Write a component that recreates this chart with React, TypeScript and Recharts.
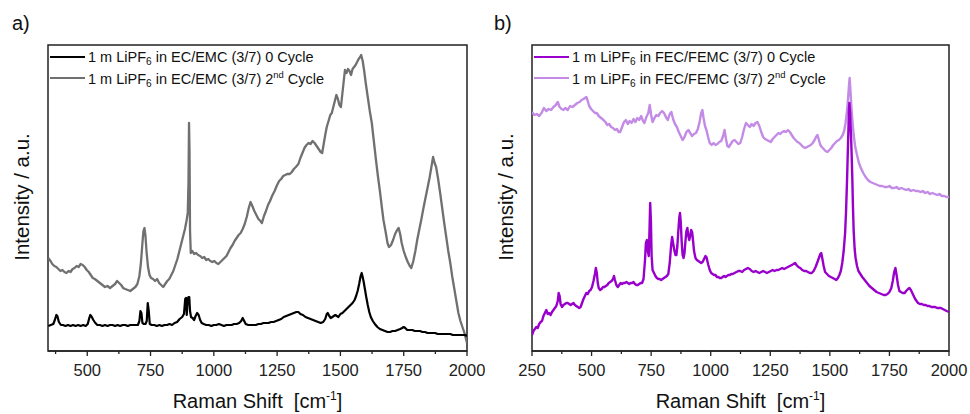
import React from 'react';
import { LineChart, Line, XAxis, YAxis, ReferenceArea, Legend } from 'recharts';

// ---------- DATA (Raman shift [cm-1], intensity a.u.) ----------
const ecEmc0: [number, number][] = [
  [346, 25], [356, 26], [366, 27], [372, 31], [378, 36], [382, 35], [388, 29], [396, 26], [404, 26], [414, 25],
  [424, 26], [434, 25], [444, 26], [454, 25], [464, 26], [474, 25], [484, 26], [494, 25], [502, 27], [508, 33],
  [512, 36], [518, 34], [524, 31], [532, 28], [540, 26], [550, 26], [560, 25], [570, 26], [580, 25], [590, 26],
  [600, 26], [610, 25], [620, 26], [630, 25], [640, 26], [650, 26], [660, 25], [670, 26], [680, 26], [690, 26],
  [700, 26], [706, 30], [710, 40], [714, 38], [718, 28], [724, 27], [730, 27], [735, 30], [739, 48], [743, 40],
  [747, 27], [755, 26], [765, 26], [775, 25], [785, 26], [795, 25], [805, 26], [815, 26], [825, 27], [835, 26],
  [845, 28], [855, 29], [865, 32], [875, 34], [882, 37], [887, 52], [890, 53], [893, 36], [897, 52], [900, 54],
  [903, 54], [906, 40], [910, 34], [916, 33], [922, 31], [928, 35], [934, 38], [940, 36], [946, 31], [952, 28],
  [960, 27], [970, 26], [980, 26], [990, 25], [1000, 26], [1010, 26], [1020, 27], [1030, 26], [1040, 25], [1050, 26],
  [1060, 26], [1070, 26], [1080, 27], [1090, 27], [1100, 28], [1108, 30], [1114, 33], [1120, 30], [1126, 27], [1136, 26],
  [1146, 26], [1156, 26], [1166, 26], [1176, 27], [1186, 27], [1196, 28], [1206, 28], [1216, 28], [1226, 29], [1236, 29],
  [1246, 30], [1256, 31], [1266, 32], [1276, 34], [1286, 35], [1296, 36], [1306, 37], [1316, 38], [1326, 39], [1334, 39],
  [1342, 37], [1352, 36], [1362, 34], [1372, 33], [1382, 32], [1392, 31], [1402, 30], [1412, 29], [1422, 28], [1432, 29],
  [1440, 32], [1446, 37], [1450, 38], [1456, 35], [1462, 33], [1468, 34], [1474, 35], [1480, 36], [1486, 35], [1492, 34],
  [1500, 37], [1508, 38], [1516, 40], [1524, 42], [1532, 44], [1540, 46], [1548, 48], [1556, 51], [1562, 55], [1568, 60],
  [1574, 67], [1580, 75], [1584, 78], [1588, 74], [1592, 69], [1596, 63], [1602, 54], [1608, 46], [1614, 39], [1620, 34],
  [1628, 30], [1636, 27], [1646, 24], [1656, 22], [1666, 21], [1676, 20], [1686, 19], [1696, 19], [1706, 20], [1716, 20],
  [1726, 21], [1736, 22], [1744, 23], [1750, 24], [1756, 23], [1764, 21], [1774, 21], [1784, 21], [1794, 20], [1804, 20],
  [1814, 20], [1824, 19], [1834, 19], [1844, 18], [1854, 18], [1864, 18], [1874, 18], [1884, 17], [1894, 17], [1904, 17],
  [1914, 17], [1924, 17], [1934, 17], [1944, 16], [1954, 16], [1964, 16], [1974, 16], [1984, 16], [1992, 16], [2000, 15],
];

const ecEmc2: [number, number][] = [
  [346, 93], [355, 90], [362, 87], [370, 85], [378, 84], [386, 82], [394, 80], [402, 81], [410, 79], [418, 78],
  [426, 80], [434, 79], [442, 82], [450, 83], [458, 85], [466, 84], [474, 87], [482, 86], [490, 84], [498, 81],
  [506, 79], [514, 76], [522, 73], [530, 72], [540, 70], [550, 68], [560, 66], [570, 64], [580, 65], [590, 63],
  [600, 65], [610, 67], [618, 70], [626, 68], [634, 66], [642, 63], [650, 62], [660, 61], [670, 60], [680, 62],
  [690, 64], [698, 67], [706, 75], [712, 88], [718, 108], [722, 120], [726, 123], [730, 115], [734, 100], [740, 84],
  [746, 76], [752, 73], [760, 72], [768, 70], [776, 72], [784, 68], [792, 66], [800, 64], [808, 67], [816, 70],
  [824, 72], [832, 76], [840, 80], [848, 86], [856, 92], [864, 100], [872, 108], [880, 116], [886, 122], [892, 130],
  [897, 138], [900, 170], [902, 228], [904, 200], [906, 120], [909, 98], [915, 100], [922, 97], [930, 98], [938, 96],
  [946, 95], [954, 93], [962, 94], [970, 91], [978, 92], [986, 90], [994, 89], [1002, 90], [1010, 88], [1018, 87],
  [1026, 89], [1034, 91], [1042, 93], [1050, 95], [1058, 99], [1066, 103], [1074, 106], [1082, 110], [1090, 113], [1098, 116],
  [1106, 118], [1114, 122], [1122, 127], [1130, 134], [1138, 143], [1145, 149], [1152, 145], [1160, 140], [1168, 136], [1176, 132],
  [1184, 130], [1190, 128], [1198, 135], [1206, 140], [1214, 146], [1222, 150], [1230, 155], [1240, 160], [1250, 166], [1258, 170],
  [1266, 172], [1274, 175], [1282, 176], [1290, 177], [1300, 177], [1308, 179], [1316, 182], [1324, 184], [1334, 187], [1342, 193],
  [1350, 198], [1358, 203], [1366, 206], [1374, 208], [1382, 207], [1390, 210], [1398, 208], [1406, 205], [1414, 202], [1422, 199],
  [1428, 198], [1434, 207], [1440, 216], [1446, 224], [1452, 229], [1460, 236], [1466, 238], [1472, 244], [1478, 250], [1484, 256],
  [1490, 252], [1496, 246], [1502, 244], [1508, 258], [1514, 272], [1518, 281], [1524, 278], [1530, 282], [1536, 280], [1542, 276],
  [1548, 282], [1554, 284], [1560, 286], [1566, 289], [1572, 292], [1578, 294], [1582, 296], [1588, 290], [1594, 280], [1600, 268],
  [1608, 254], [1616, 240], [1624, 228], [1632, 210], [1640, 192], [1648, 175], [1656, 160], [1664, 143], [1670, 131], [1678, 120],
  [1686, 108], [1692, 104], [1700, 106], [1708, 111], [1716, 117], [1724, 121], [1730, 123], [1736, 117], [1742, 108], [1750, 100],
  [1758, 94], [1766, 89], [1774, 85], [1780, 83], [1788, 90], [1796, 100], [1804, 112], [1812, 122], [1820, 132], [1828, 143],
  [1836, 153], [1844, 163], [1852, 173], [1860, 185], [1866, 194], [1872, 188], [1878, 184], [1886, 172], [1894, 158], [1902, 143],
  [1910, 128], [1918, 114], [1926, 100], [1934, 88], [1942, 74], [1950, 62], [1958, 50], [1966, 38], [1974, 30], [1982, 24],
  [1990, 18], [2000, 8],
];

const fecFemc0: [number, number][] = [
  [250, 16], [256, 20], [262, 22], [268, 24], [274, 23], [280, 27], [286, 29], [292, 30], [298, 35], [304, 38],
  [310, 41], [316, 37], [322, 38], [328, 36], [334, 39], [340, 41], [346, 43], [352, 45], [358, 50], [362, 58],
  [366, 55], [370, 47], [376, 44], [382, 46], [388, 47], [394, 48], [400, 48], [406, 47], [412, 46], [418, 47],
  [424, 48], [430, 46], [436, 45], [442, 44], [448, 43], [454, 44], [460, 48], [466, 52], [472, 55], [478, 58],
  [484, 57], [490, 60], [496, 61], [502, 64], [508, 70], [514, 77], [518, 83], [522, 78], [526, 68], [530, 63],
  [536, 61], [542, 62], [548, 64], [554, 64], [560, 65], [566, 66], [572, 68], [578, 69], [584, 70], [590, 72],
  [594, 75], [598, 71], [604, 66], [610, 64], [616, 66], [622, 68], [628, 67], [634, 68], [640, 68], [646, 69],
  [652, 68], [658, 67], [664, 68], [670, 68], [676, 69], [682, 67], [688, 66], [694, 66], [700, 67], [706, 68],
  [712, 68], [718, 72], [724, 90], [728, 108], [732, 111], [736, 100], [740, 95], [743, 120], [746, 148], [749, 130],
  [752, 95], [756, 81], [762, 78], [768, 75], [774, 73], [780, 72], [786, 72], [792, 71], [798, 72], [804, 73],
  [810, 74], [816, 75], [822, 77], [828, 88], [834, 106], [838, 114], [842, 108], [848, 100], [852, 96], [856, 96],
  [860, 105], [864, 120], [868, 133], [871, 138], [874, 130], [878, 110], [882, 96], [886, 93], [890, 98], [894, 110],
  [898, 120], [902, 123], [906, 115], [910, 111], [914, 115], [918, 121], [922, 119], [926, 110], [930, 100], [936, 93],
  [942, 91], [948, 90], [954, 89], [960, 88], [966, 89], [972, 92], [978, 95], [982, 94], [986, 90], [990, 86],
  [996, 81], [1002, 78], [1008, 77], [1014, 76], [1020, 76], [1026, 74], [1032, 74], [1038, 73], [1044, 73], [1050, 74],
  [1056, 75], [1062, 74], [1068, 75], [1074, 76], [1080, 76], [1086, 77], [1092, 77], [1100, 78], [1108, 79], [1116, 80],
  [1124, 80], [1132, 79], [1140, 81], [1148, 82], [1156, 83], [1164, 82], [1172, 80], [1180, 79], [1188, 80], [1196, 79],
  [1204, 78], [1212, 79], [1220, 80], [1228, 79], [1236, 78], [1244, 79], [1252, 80], [1260, 81], [1268, 80], [1276, 81],
  [1284, 81], [1292, 82], [1300, 83], [1308, 82], [1316, 83], [1324, 84], [1332, 85], [1340, 86], [1348, 87], [1354, 88],
  [1360, 86], [1368, 84], [1376, 83], [1384, 81], [1392, 80], [1400, 80], [1408, 79], [1416, 78], [1424, 78], [1432, 80],
  [1440, 84], [1448, 89], [1454, 93], [1460, 97], [1464, 98], [1468, 93], [1474, 85], [1480, 79], [1488, 77], [1496, 75],
  [1504, 74], [1512, 73], [1520, 72], [1527, 71], [1534, 73], [1540, 76], [1546, 80], [1552, 88], [1558, 100], [1564, 118],
  [1568, 140], [1572, 170], [1576, 205], [1580, 240], [1582, 248], [1585, 238], [1588, 220], [1591, 200], [1594, 175], [1597, 144],
  [1600, 120], [1604, 102], [1608, 93], [1614, 85], [1620, 80], [1628, 77], [1636, 74], [1646, 71], [1656, 68], [1666, 65],
  [1676, 63], [1686, 61], [1696, 59], [1706, 58], [1716, 57], [1726, 56], [1734, 56], [1742, 57], [1750, 59], [1758, 63],
  [1764, 70], [1770, 79], [1775, 83], [1780, 76], [1786, 66], [1792, 60], [1798, 59], [1806, 58], [1814, 58], [1820, 60],
  [1828, 62], [1834, 63], [1840, 61], [1846, 58], [1852, 55], [1858, 52], [1864, 50], [1870, 48], [1878, 47], [1886, 47],
  [1894, 46], [1902, 46], [1910, 45], [1918, 45], [1926, 44], [1934, 44], [1942, 44], [1950, 43], [1958, 43], [1966, 43],
  [1974, 42], [1982, 41], [1990, 40], [2000, 39],
];

const fecFemc2: [number, number][] = [
  [250, 239], [260, 236], [270, 237], [280, 235], [290, 238], [300, 243], [310, 240], [320, 242], [330, 241], [340, 244],
  [350, 246], [358, 249], [366, 244], [374, 242], [382, 241], [390, 243], [400, 241], [410, 245], [420, 244], [430, 246],
  [440, 248], [450, 249], [458, 251], [466, 252], [472, 253], [478, 254], [484, 250], [490, 245], [498, 242], [506, 240],
  [514, 238], [522, 238], [530, 235], [540, 233], [550, 231], [558, 229], [566, 226], [574, 227], [582, 224], [590, 223],
  [598, 221], [606, 222], [614, 219], [620, 219], [628, 224], [636, 229], [644, 231], [652, 227], [660, 230], [668, 228],
  [676, 232], [684, 229], [692, 233], [700, 231], [708, 235], [716, 230], [722, 228], [730, 234], [738, 238], [744, 246],
  [750, 236], [756, 229], [764, 233], [772, 236], [780, 235], [788, 238], [796, 240], [804, 238], [812, 234], [820, 231],
  [828, 237], [835, 239], [842, 232], [850, 227], [858, 224], [866, 219], [874, 215], [882, 211], [890, 214], [898, 219],
  [906, 221], [914, 218], [922, 215], [930, 217], [938, 218], [946, 222], [954, 230], [960, 238], [965, 241], [970, 233],
  [976, 225], [982, 221], [990, 213], [996, 208], [1004, 206], [1012, 208], [1020, 206], [1028, 207], [1036, 209], [1044, 210],
  [1052, 215], [1058, 221], [1064, 212], [1070, 205], [1076, 204], [1084, 207], [1092, 210], [1100, 211], [1108, 209], [1116, 207],
  [1124, 208], [1132, 214], [1140, 222], [1148, 228], [1156, 226], [1164, 224], [1172, 227], [1180, 225], [1188, 228], [1196, 229],
  [1204, 225], [1212, 219], [1220, 214], [1228, 212], [1236, 211], [1244, 210], [1252, 209], [1260, 212], [1268, 214], [1276, 216],
  [1284, 218], [1292, 217], [1300, 219], [1308, 220], [1316, 219], [1324, 221], [1332, 219], [1340, 216], [1348, 213], [1356, 211],
  [1364, 209], [1372, 208], [1380, 206], [1388, 204], [1396, 203], [1404, 204], [1412, 205], [1420, 206], [1428, 208], [1436, 211],
  [1442, 214], [1448, 216], [1454, 211], [1460, 206], [1466, 204], [1474, 202], [1482, 200], [1490, 199], [1498, 201], [1506, 203],
  [1514, 206], [1522, 208], [1530, 210], [1538, 211], [1546, 213], [1554, 216], [1560, 220], [1566, 228], [1572, 240], [1576, 251],
  [1580, 265], [1583, 273], [1586, 262], [1590, 245], [1594, 232], [1600, 216], [1606, 205], [1614, 196], [1622, 188], [1630, 183],
  [1640, 178], [1650, 174], [1660, 171], [1670, 169], [1680, 168], [1690, 167], [1700, 166], [1710, 165], [1720, 165], [1730, 164],
  [1740, 164], [1750, 165], [1760, 163], [1770, 163], [1780, 164], [1790, 162], [1800, 163], [1810, 162], [1820, 161], [1830, 162],
  [1840, 160], [1850, 161], [1860, 160], [1870, 160], [1880, 159], [1890, 160], [1900, 158], [1910, 159], [1920, 157], [1930, 158],
  [1940, 157], [1950, 156], [1960, 157], [1970, 155], [1980, 155], [1990, 154], [2000, 154],
];

const aMajorTicks = [500, 750, 1000, 1250, 1500, 1750, 2000];
const aMinorTicks = [375, 625, 875, 1125, 1375, 1625, 1875];
const bMajorTicks = [250, 500, 750, 1000, 1250, 1500, 1750, 2000];
const bMinorTicks = [375, 625, 875, 1125, 1375, 1625, 1875];

const aDomain: [number, number] = [345, 2000];
const bDomain: [number, number] = [250, 2000];
const yDomain: [number, number] = [0, 306];

// ---------- helpers ----------
const FONT = 'Arial, "Liberation Sans", Helvetica, sans-serif';
const toRows = (pts: [number, number][]) => pts.map(([x, y]) => ({ x, y }));

const makeTick = (majors: number[]) => (props: any) => {
  const { x, y, payload } = props;
  const isMajor = majors.includes(payload.value);
  return (
    <g>
      <line x1={x} x2={x} y1={y} y2={y + (isMajor ? 5 : 3)} stroke="#222" strokeWidth={1.3} />
      {isMajor && (
        <text x={x} y={y + 25} textAnchor="middle" fontSize={16.5} fill="#222" fontFamily={FONT}>
          {payload.value}
        </text>
      )}
    </g>
  );
};

type LegendRow = { color: string; solvent: string; cycle: React.ReactNode };

const LegendBox = ({ rows }: { rows: LegendRow[] }) => (
  <div style={{ fontFamily: FONT, fontSize: 14.5, color: '#111' }}>
    {rows.map((r, i) => (
      <div key={i} style={{ display: 'flex', alignItems: 'center', height: 21.5 }}>
        <div style={{ width: 35, height: 2, background: r.color, marginRight: 3, marginTop: -2 }} />
        <span style={{ lineHeight: '21.5px', whiteSpace: 'nowrap' }}>
          1 m LiPF<sub style={{ fontSize: '70%', verticalAlign: '-0.3em', lineHeight: 0 }}>6</sub> in {r.solvent} (3/7) {r.cycle}
        </span>
      </div>
    ))}
  </div>
);

const second = (
  <>
    2<sup style={{ fontSize: '65%', verticalAlign: '0.6em', lineHeight: 0 }}>nd</sup> Cycle
  </>
);

type PanelProps = {
  left: number;
  marginLeft: number;
  marginRight: number;
  domain: [number, number];
  majors: number[];
  minors: number[];
  series: { data: [number, number][]; color: string; name: string; width: number }[];
  legend: LegendRow[];
};

const Panel = ({ left, marginLeft, marginRight, domain, majors, minors, series, legend }: PanelProps) => {
  const ticks = [...minors, ...majors].filter((t) => t >= domain[0] && t <= domain[1]).sort((a, b) => a - b);
  return (
    <div style={{ position: 'absolute', left, top: 0 }}>
      <LineChart width={485} height={414} margin={{ top: 45, right: marginRight, bottom: 0, left: marginLeft }}>
        <XAxis
          type="number"
          dataKey="x"
          domain={domain}
          allowDataOverflow
          ticks={ticks}
          interval={0}
          tickSize={0}
          tickMargin={0}
          tickLine={false}
          tick={makeTick(majors)}
          height={63}
          axisLine={{ stroke: '#222', strokeWidth: 1.5 }}
        />
        <YAxis type="number" domain={yDomain} allowDataOverflow hide width={0} />
        <ReferenceArea
          x1={domain[0]}
          x2={domain[1]}
          y1={yDomain[0]}
          y2={yDomain[1]}
          fill="none"
          stroke="#222"
          strokeWidth={1.5}
          ifOverflow="visible"
        />
        {series.map((s) => (
          <Line
            key={s.name}
            data={toRows(s.data)}
            dataKey="y"
            name={s.name}
            type="linear"
            stroke={s.color}
            strokeWidth={s.width}
            strokeLinejoin="round"
            dot={false}
            activeDot={false}
            isAnimationActive={false}
          />
        ))}
        <Legend
          layout="horizontal"
          verticalAlign="middle"
          align="center"
          content={() => <LegendBox rows={legend} />}
          wrapperStyle={{ left: marginLeft + 2, top: 47, width: 'auto', height: 'auto' }}
        />
      </LineChart>
    </div>
  );
};

const YTitle = ({ x, y }: { x: number; y: number }) => (
  <text
    x={x}
    y={y}
    transform={`rotate(-90 ${x} ${y})`}
    textAnchor="middle"
    fontSize={20.5}
    fill="#111"
    fontFamily={FONT}
  >
    Intensity / a.u.
  </text>
);

const XTitle = ({ x, y }: { x: number; y: number }) => (
  <text x={x} y={y} textAnchor="middle" fontSize={20} fill="#111" fontFamily={FONT}>
    Raman Shift{'\u00A0\u00A0'}[cm
    <tspan fontSize={12} dy={-8}>-1</tspan>
    <tspan dy={8}>]</tspan>
  </text>
);

export default function App() {
  return (
    <div
      style={{
        position: 'absolute',
        left: 0,
        top: 0,
        width: 970,
        height: 414,
        background: '#fff',
        overflow: 'hidden',
        fontFamily: FONT,
      }}
    >
      <Panel
        left={0}
        marginLeft={48}
        marginRight={18}
        domain={aDomain}
        majors={aMajorTicks}
        minors={aMinorTicks}
        series={[
          { data: ecEmc2, color: '#707070', name: 'EC/EMC 2nd Cycle', width: 2.3 },
          { data: ecEmc0, color: '#000000', name: 'EC/EMC 0 Cycle', width: 2.2 },
        ]}
        legend={[
          { color: '#000000', solvent: 'EC/EMC', cycle: '0 Cycle' },
          { color: '#707070', solvent: 'EC/EMC', cycle: second },
        ]}
      />
      <Panel
        left={485}
        marginLeft={47}
        marginRight={21}
        domain={bDomain}
        majors={bMajorTicks}
        minors={bMinorTicks}
        series={[
          { data: fecFemc2, color: '#c38be6', name: 'FEC/FEMC 2nd Cycle', width: 2.4 },
          { data: fecFemc0, color: '#9900cc', name: 'FEC/FEMC 0 Cycle', width: 2.4 },
        ]}
        legend={[
          { color: '#9900cc', solvent: 'FEC/FEMC', cycle: '0 Cycle' },
          { color: '#c38be6', solvent: 'FEC/FEMC', cycle: second },
        ]}
      />
      <svg
        width={970}
        height={414}
        style={{ position: 'absolute', left: 0, top: 0, pointerEvents: 'none' }}
      >
        <text x={12} y={29.5} fontSize={20} fill="#111" fontFamily={FONT}>a)</text>
        <text x={494} y={29.5} fontSize={20} fill="#111" fontFamily={FONT}>b)</text>
        <YTitle x={29} y={197} />
        <YTitle x={513} y={197} />
        <XTitle x={257.5} y={408} />
        <XTitle x={740.5} y={408} />
      </svg>
    </div>
  );
}
